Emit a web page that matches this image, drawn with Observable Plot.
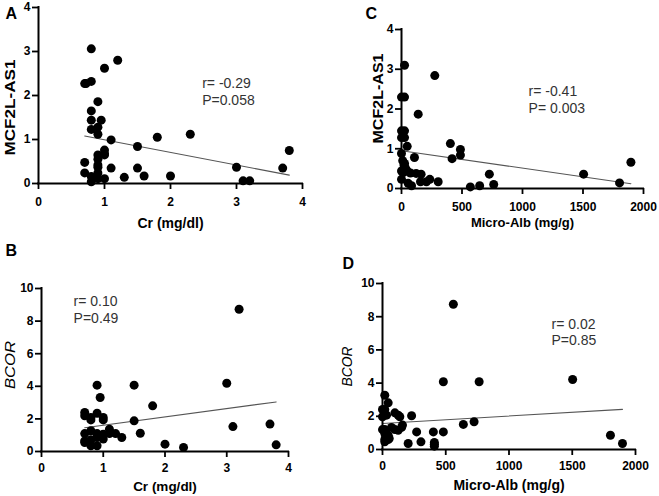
<!DOCTYPE html>
<html>
<head>
<meta charset="utf-8">
<script src="https://cdn.jsdelivr.net/npm/d3@7"></script>
<script src="https://cdn.jsdelivr.net/npm/@observablehq/plot@0.6"></script>
<style>
  html, body { margin: 0; padding: 0; background: #fff; }
  #figure { position: relative; width: 659px; height: 496px; overflow: hidden; }
  .panel { position: absolute; }
</style>
</head>
<body>
<div id="figure"></div>
<script>
// ---- Panel A: creatinine vs MCF2L-AS1 ----
const crA  = [0.8, 1.2, 1.0, 0.7, 0.72, 0.8, 0.9, 0.8, 0.8, 0.95, 0.9, 0.8, 0.9, 1.1, 1.0, 1.8, 2.3, 1.5, 0.9, 1.0, 0.9, 0.7, 0.9, 0.9, 1.1, 1.5, 0.7, 0.9, 0.8, 1.0, 0.9, 1.3, 1.6, 2.0, 0.8, 3.0, 3.1, 3.2, 3.7, 3.8, 1.0];
const mcfA = [3.06, 2.80, 2.62, 2.27, 2.27, 2.32, 1.86, 1.65, 1.44, 1.44, 1.28, 1.23, 1.12, 0.99, 0.76, 1.05, 1.12, 0.84, 0.65, 0.65, 0.55, 0.48, 0.42, 0.37, 0.35, 0.35, 0.24, 0.24, 0.16, 0.11, 0.11, 0.14, 0.17, 0.17, 0.04, 0.37, 0.06, 0.06, 0.35, 0.75, 0.68];
const fitAx = [0.7, 3.8];
const fitAy = [1.08, 0.19];
const statsA = ["r= -0.29", "P=0.058"];

// ---- Panel C: micro-albumin vs MCF2L-AS1 ----
const albC = [25, 0, 25, 275, 138, 0, 25, 0, 25, 47, 0, 25, 25, 404, 487, 487, 418, 107, 0, 47, 74, 121, 162, 234, 206, 303, 157, 0, 55, 83, 569, 646, 726, 762, 1505, 1802, 1896, 10, 20, 35, 15];
const mcfC = [3.10, 2.30, 2.30, 2.84, 1.87, 1.45, 1.45, 1.28, 1.28, 1.06, 0.88, 0.63, 0.55, 1.13, 0.98, 0.84, 0.75, 0.78, 0.44, 0.44, 0.39, 0.38, 0.36, 0.23, 0.17, 0.17, 0.17, 0.23, 0.13, 0.07, 0.04, 0.07, 0.36, 0.10, 0.36, 0.14, 0.66, 0.70, 0.60, 0.50, 0.40];
const fitCx = [0, 1896];
const fitCy = [0.95, 0.12];
const statsC = ["r= -0.41", "P= 0.003"];

// ---- Panel B: creatinine vs BCOR ----
const crB   = [3.2, 0.9, 1.5, 3.0, 0.95, 1.8, 0.7, 0.7, 0.9, 0.8, 1.0, 0.8, 1.0, 1.5, 3.1, 3.7, 1.6, 0.7, 0.8, 0.9, 1.0, 1.1, 1.1, 1.2, 1.3, 1.0, 0.9, 0.8, 0.7, 0.7, 0.8, 0.9, 2.0, 2.3, 3.8];
const bcorB = [8.73, 4.07, 4.07, 4.19, 3.31, 2.80, 2.39, 2.19, 2.35, 2.09, 2.09, 1.94, 1.94, 1.88, 1.53, 1.68, 1.12, 1.10, 1.27, 1.10, 1.06, 1.37, 1.10, 1.10, 0.86, 0.76, 0.86, 0.72, 0.65, 0.55, 0.35, 0.35, 0.45, 0.25, 0.41];
const fitBx = [0.7, 3.8];
const fitBy = [1.46, 3.04];
const statsB = ["r= 0.10", "P=0.49"];

// ---- Panel D: micro-albumin vs BCOR ----
const albD  = [560, 481, 764, 1503, 18, 45, 0, 18, 0, 32, 98, 124, 137, 230, 158, 151, 0, 18, 71, 98, 124, 270, 402, 481, 639, 724, 18, 45, 18, 45, 18, 53, 203, 304, 410, 410, 410, 1802, 1897];
const bcorD = [8.75, 4.08, 4.08, 4.22, 3.27, 2.81, 2.41, 2.41, 1.97, 2.07, 2.21, 2.07, 1.97, 2.03, 1.47, 1.33, 1.20, 1.20, 1.33, 1.20, 1.16, 1.06, 1.06, 1.06, 1.51, 1.67, 0.96, 0.86, 0.60, 0.60, 0.46, 0.66, 0.36, 0.46, 0.32, 0.20, 0.42, 0.86, 0.36];
const fitDx = [0, 1897];
const fitDy = [1.57, 2.42];
const statsD = ["r= 0.02", "P=0.85"];

// ---- Axis ticks and titles ----
const crTicks  = [0, 1, 2, 3, 4];
const albTicks = [0, 500, 1000, 1500, 2000];
const mcfTicks = [0, 1, 2, 3, 4];
const bcorTicks = [0, 2, 4, 6, 8, 10];
const crTitle  = "Cr (mg/dl)";
const albTitle = "Micro-Alb (mg/g)";
const mcfTitle = "MCF2L-AS1";
const bcorTitle = "BCOR";

const FONT = "'Liberation Sans', Arial, Helvetica, sans-serif";
const TICK = 6;

function scatterPanel(c) {
  const pts = c.xs.map((x, i) => ({x, y: c.ys[i]}));
  const fit = c.fitX.map((x, i) => ({x, y: c.fitY[i]}));
  const svg = Plot.plot({
    width: c.width,
    height: c.height,
    marginTop: c.m[0], marginRight: c.m[1], marginBottom: c.m[2], marginLeft: c.m[3],
    x: {domain: c.xDomain, axis: null},
    y: {domain: c.yDomain, axis: null},
    style: {fontFamily: FONT, color: "#000", background: "none", overflow: "visible"},
    marks: [
      // tick marks (labels drawn separately below)
      Plot.axisX(c.xTicks, {tickSize: TICK, tickFormat: () => "", label: null, stroke: "#000", strokeWidth: 1.8}),
      Plot.axisY(c.yTicks, {tickSize: TICK, tickFormat: () => "", label: null, stroke: "#000", strokeWidth: 1.8}),
      // bold tick labels
      Plot.text(c.xTicks, {
        x: d => d, text: d => String(d), frameAnchor: "bottom", dy: TICK + c.xPad,
        lineAnchor: "top", fontSize: 12, fontWeight: "bold", fill: "#000"
      }),
      Plot.text(c.yTicks, {
        y: d => d, text: d => String(d), frameAnchor: "left", dx: -(TICK + 2),
        textAnchor: "end", lineAnchor: "middle", fontSize: 12, fontWeight: "bold", fill: "#000"
      }),
      Plot.line(fit, {x: "x", y: "y", stroke: "#555", strokeWidth: 1.1}),
      Plot.dot(pts, {x: "x", y: "y", r: 4.5, fill: "#000", stroke: "none"}),
      Plot.ruleX([c.xDomain[0]], {stroke: "#000", strokeWidth: 2, strokeLinecap: "square"}),
      Plot.ruleY([c.yDomain[0]], {stroke: "#000", strokeWidth: 2, strokeLinecap: "square"}),
      // correlation statistics
      Plot.text([c.stats.join("\n")], {
        x: () => c.annX, y: () => c.annY, text: d => d,
        textAnchor: "start", lineAnchor: "bottom", lineHeight: 1.17,
        fontSize: 14, fill: "#333"
      }),
      // x-axis title
      Plot.text([c.xTitle], {
        frameAnchor: "bottom", dy: c.xTitleDy, lineAnchor: "bottom",
        fontSize: c.xTitleSize, fontWeight: "bold", fill: "#000"
      }),
      // y-axis title
      Plot.text([c.yTitle], {
        frameAnchor: "left", rotate: -90, dx: c.yTitleDx, dy: c.yTitleDy,
        textAnchor: "middle", lineAnchor: "middle",
        fontSize: 14, fontWeight: c.yTitleWeight, fontStyle: c.yTitleStyle, fill: "#000"
      }),
      // panel letter
      Plot.text([c.letter], {
        frameAnchor: "top-left", dx: c.letterDx, dy: c.letterDy,
        textAnchor: "start", lineAnchor: "bottom", fontSize: 16, fontWeight: "bold", fill: "#000"
      })
    ]
  });
  // stretch the rotated y title to its printed length
  d3.select(svg).selectAll("text")
    .filter(function () { return this.textContent === c.yTitle; })
    .attr("textLength", c.yTitleLen)
    .attr("lengthAdjust", "spacingAndGlyphs");
  const div = document.createElement("div");
  div.className = "panel";
  div.style.left = c.left + "px";
  div.style.top = c.top + "px";
  div.appendChild(svg);
  document.getElementById("figure").appendChild(div);
}

scatterPanel({
  letter: "A", left: 0, top: 0, width: 330, height: 240, m: [7, 28, 57, 38],
  xs: crA, ys: mcfA, fitX: fitAx, fitY: fitAy,
  xDomain: [0, 4], yDomain: [0, 4], xTicks: crTicks, yTicks: mcfTicks, xPad: 8,
  stats: statsA, annX: 2.48, annY: 1.795,
  xTitle: crTitle, xTitleDy: 44, xTitleSize: 14,
  yTitle: mcfTitle, yTitleDx: -28, yTitleDy: 12, yTitleLen: 96, yTitleWeight: "bold", yTitleStyle: "normal",
  letterDx: -33, letterDy: 11
});

scatterPanel({
  letter: "C", left: 330, top: 0, width: 329, height: 240, m: [29, 16, 52, 71],
  xs: albC, ys: mcfC, fitX: fitCx, fitY: fitCy,
  xDomain: [0, 2000], yDomain: [0, 4], xTicks: albTicks, yTicks: mcfTicks, xPad: 8,
  stats: statsC, annX: 1050, annY: 1.91,
  xTitle: albTitle, xTitleDy: 38, xTitleSize: 13,
  yTitle: mcfTitle, yTitleDx: -23, yTitleDy: -10.5, yTitleLen: 90, yTitleWeight: "bold", yTitleStyle: "normal",
  letterDx: -36, letterDy: -11
});

scatterPanel({
  letter: "B", left: 0, top: 240, width: 330, height: 256, m: [48, 42, 45, 41],
  xs: crB, ys: bcorB, fitX: fitBx, fitY: fitBy,
  xDomain: [0, 4], yDomain: [0, 10], xTicks: crTicks, yTicks: bcorTicks, xPad: 6,
  stats: statsB, annX: 0.52, annY: 7.91,
  xTitle: crTitle, xTitleDy: 39, xTitleSize: 13.5,
  yTitle: bcorTitle, yTitleDx: -31, yTitleDy: -5, yTitleLen: 48, yTitleWeight: "normal", yTitleStyle: "italic",
  letterDx: -36, letterDy: -33
});

scatterPanel({
  letter: "D", left: 330, top: 240, width: 329, height: 256, m: [43, 24, 47, 52],
  xs: albD, ys: bcorD, fitX: fitDx, fitY: fitDy,
  xDomain: [0, 2000], yDomain: [0, 10], xTicks: albTicks, yTicks: bcorTicks, xPad: 6,
  stats: statsD, annX: 1336, annY: 6.27,
  xTitle: albTitle, xTitleDy: 40, xTitleSize: 14,
  yTitle: bcorTitle, yTitleDx: -35, yTitleDy: 0, yTitleLen: 40, yTitleWeight: "normal", yTitleStyle: "italic",
  letterDx: -40, letterDy: -15
});
</script>
</body>
</html>
